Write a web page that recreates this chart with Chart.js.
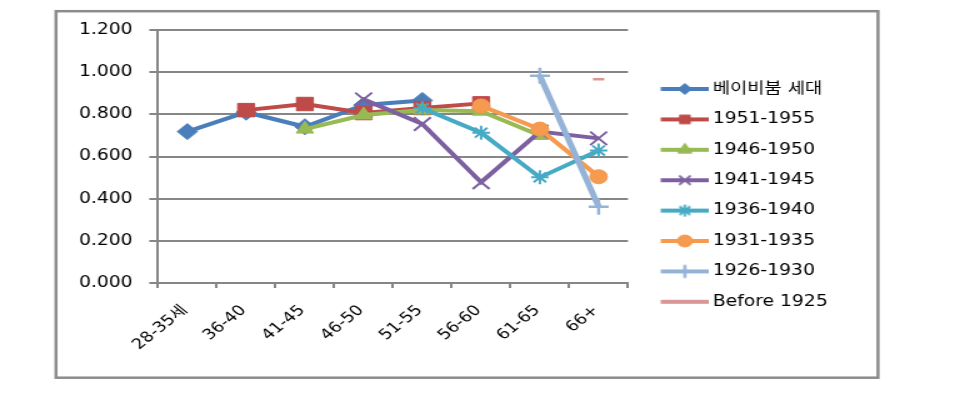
<!DOCTYPE html>
<html>
<head>
<meta charset="utf-8">
<script src="https://cdn.jsdelivr.net/npm/chart.js@4/dist/chart.umd.min.js"></script>
<style>
  html, body { margin: 0; padding: 0; background: #fff; overflow: hidden; }
  #wrap { position: absolute; left: 0; top: 0; width: 776px; height: 401px; transform: scaleX(1.25); transform-origin: 0 0; }
</style>
</head>
<body>
<div id="wrap"><canvas id="c" width="776" height="401"></canvas></div>
<script>
// ---- data ----
const categories = ['28-35세', '36-40', '41-45', '46-50', '51-55', '56-60', '61-65', '66+'];
const seriesNames = ['베이비붐 세대', '1951-1955', '1946-1950', '1941-1945', '1936-1940', '1931-1935', '1926-1930', 'Before 1925'];
const babyBoom = [0.718, 0.810, 0.741, 0.844, 0.866, null, null, null];
const c1951 = [null, 0.820, 0.849, 0.806, 0.830, 0.852, null, null];
const c1946 = [null, null, 0.730, 0.797, 0.820, 0.815, 0.700, null];
const c1941 = [null, null, null, 0.871, 0.754, 0.478, 0.718, 0.686];
const c1936 = [null, null, null, null, 0.829, 0.713, 0.501, 0.628];
const c1931 = [null, null, null, null, null, 0.840, 0.730, 0.504];
const c1926 = [null, null, null, null, null, null, 0.983, 0.362];
const cBefore = [null, null, null, null, null, null, null, 0.966];
const yTicks = [0, 0.2, 0.4, 0.6, 0.8, 1.0, 1.2];

// ---- styles ----
const colors = ['#4A7EBB', '#BE4B48', '#98B954', '#7D60A0', '#46AAC5', '#F59A4E', '#95B3D7', '#D99694'];
const pointStyles = ['rectRot', 'rect', 'triangle', 'crossRot', 'star', 'circle', 'cross', 'line'];
const pointRadii = [8, 9.5, 8, 9.5, 7, 7, 8, 4.5];
const pointBorders = [1, 1, 1, 2, 2, 1, 2.5, 2.5];
const lineWidths = [4, 4, 4, 4, 4, 4, 5, 4];
const legendRadii = [5.5, 6, 6.5, 6.5, 6, 6, 6.5, 0];
const seriesData = [babyBoom, c1951, c1946, c1941, c1936, c1931, c1926, cBefore];

const FONT_FAMILY = "'DejaVu Sans', 'Noto Sans CJK KR', sans-serif";
const LEGEND_FONT = 15;
const LEGEND_PAD = 15.4;
const CHART_RIGHT = 502.4;          // plot right edge (logical px)
const SAMPLE_L = 528.6, SAMPLE_R = 567.2, TEXT_X = 570.2;
const LEGEND_BOXW = TEXT_X - CHART_RIGHT - LEGEND_PAD - LEGEND_FONT / 2;
const BOX_CX = CHART_RIGHT + LEGEND_PAD + LEGEND_BOXW / 2;
const IMG_HALF = SAMPLE_R - BOX_CX;

function legendImage(i) {
  const cv = document.createElement('canvas');
  const w = Math.round(IMG_HALF * 2);
  cv.width = w; cv.height = 18;
  const g = cv.getContext('2d');
  const x0 = SAMPLE_L - (BOX_CX - w / 2);
  g.strokeStyle = colors[i];
  g.lineWidth = 4;
  g.lineCap = 'butt';
  g.beginPath(); g.moveTo(x0, 9); g.lineTo(w, 9); g.stroke();
  if (legendRadii[i] > 0) {
    g.fillStyle = colors[i];
    g.strokeStyle = colors[i];
    g.lineWidth = pointBorders[i];
    Chart.helpers.drawPoint(g, {pointStyle: pointStyles[i], radius: legendRadii[i], borderWidth: pointBorders[i], rotation: 0}, (x0 + w) / 2, 9);
  }
  return cv;
}

const datasets = seriesNames.map((name, i) => ({
  label: name,
  data: seriesData[i],
  borderColor: colors[i],
  backgroundColor: colors[i],
  borderWidth: lineWidths[i],
  pointStyle: pointStyles[i],
  pointRadius: pointRadii[i],
  pointBorderWidth: pointBorders[i],
  pointBackgroundColor: colors[i],
  pointBorderColor: colors[i],
  tension: 0,
  spanGaps: false,
  order: seriesNames.length - i
}));

const framePlugin = {
  id: 'frame',
  afterInit(chart) {
    const lg = chart.legend;
    if (lg) {
      const orig = lg.fit.bind(lg);
      lg.fit = function () { orig(); this.width = 776 - CHART_RIGHT; };
    }
  },
  beforeDraw(chart) {
    const ctx = chart.ctx;
    ctx.save();
    ctx.fillStyle = '#ffffff';
    ctx.fillRect(0, 0, chart.width, chart.height);
    ctx.strokeStyle = '#8c8c8c';
    ctx.lineWidth = 2.5;
    ctx.strokeRect(44.8, 11.2, 657.6, 366.5);
    ctx.restore();
  }
};

new Chart(document.getElementById('c'), {
  type: 'line',
  data: { labels: categories, datasets: datasets },
  options: {
    responsive: false,
    animation: false,
    devicePixelRatio: 1,
    layout: { padding: { top: 30, bottom: 40.2, left: 0, right: 0 } },
    plugins: {
      tooltip: { enabled: false },
      legend: {
        position: 'right',
        align: 'center',
        labels: {
          usePointStyle: true,
          pointStyleWidth: LEGEND_BOXW,
          padding: LEGEND_PAD,
          color: '#000',
          font: { family: FONT_FAMILY, size: LEGEND_FONT },
          generateLabels: (chart) => seriesNames.map((n, i) => ({
            text: n,
            pointStyle: legendImage(i),
            fillStyle: colors[i],
            strokeStyle: colors[i],
            lineWidth: 0,
            hidden: false,
            datasetIndex: i,
            fontColor: '#000'
          }))
        }
      }
    },
    scales: {
      x: {
        type: 'category',
        offset: true,
        afterFit: (s) => { s.height = 77.8; },
        grid: { display: true, drawOnChartArea: false, drawTicks: true, tickLength: 5, offset: true, color: '#868686', lineWidth: 2 },
        border: { display: true, color: '#868686', width: 2 },
        ticks: {
          color: '#000',
          font: { family: FONT_FAMILY, size: 14.5 },
          minRotation: 45, maxRotation: 45,
          padding: 14,
          labelOffset: -2,
          autoSkip: false
        }
      },
      y: {
        min: 0, max: 1.2,
        afterFit: (s) => { s.width = 126.4; },
        afterBuildTicks: (s) => { s.ticks = yTicks.map(v => ({ value: v })); },
        grid: { color: '#868686', lineWidth: 2, drawTicks: true, tickLength: 7 },
        border: { display: true, color: '#868686', width: 2 },
        ticks: {
          color: '#000',
          font: { family: FONT_FAMILY, size: 15 },
          padding: 13.3,
          callback: (v) => Number(v).toFixed(3)
        }
      }
    }
  },
  plugins: [framePlugin]
});
</script>
</body>
</html>
